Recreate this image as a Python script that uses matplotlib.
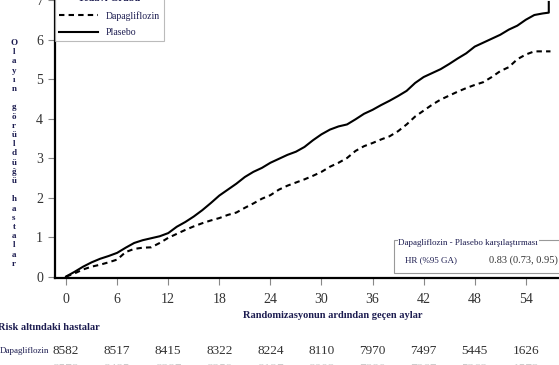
import matplotlib
matplotlib.use("Agg")
import matplotlib.pyplot as plt
from matplotlib.patches import Rectangle

plt.rcParams['font.family'] = ['Liberation Serif', 'DejaVu Serif']

# cumulative events (%), about one value per month
months_p = list(range(0, 57)) + [56.7, 56.7]
plasebo = [0, 0.12, 0.25, 0.36, 0.45, 0.52, 0.6, 0.73, 0.85, 0.92,
           0.97, 1.02, 1.1, 1.26, 1.38, 1.52, 1.68, 1.86, 2.05, 2.2,
           2.35, 2.52, 2.65, 2.75, 2.88, 2.98, 3.08, 3.16, 3.28, 3.45,
           3.6, 3.72, 3.8, 3.85, 3.98, 4.12, 4.22, 4.34, 4.45, 4.57,
           4.7, 4.9, 5.05, 5.15, 5.25, 5.38, 5.52, 5.65, 5.82, 5.92,
           6.02, 6.12, 6.25, 6.35, 6.5, 6.62, 6.66, 6.68, 6.95]
months_d = list(range(0, 57)) + [56.9]
dapa = [0, 0.08, 0.18, 0.25, 0.3, 0.36, 0.43, 0.62, 0.7, 0.73,
        0.74, 0.85, 0.98, 1.08, 1.18, 1.27, 1.35, 1.42, 1.48, 1.56,
        1.62, 1.74, 1.85, 1.97, 2.06, 2.2, 2.3, 2.38, 2.46, 2.55,
        2.65, 2.78, 2.88, 3.0, 3.18, 3.3, 3.38, 3.47, 3.55, 3.68,
        3.85, 4.05, 4.2, 4.35, 4.48, 4.58, 4.68, 4.77, 4.85, 4.92,
        5.05, 5.2, 5.3, 5.5, 5.62, 5.7, 5.7, 5.7]

risk_months = [0, 6, 12, 18, 24, 30, 36, 42, 48, 54]
risk_dapa = [8582, 8517, 8415, 8322, 8224, 8110, 7970, 7497, 5445, 1626]
risk_plasebo = [8578, 8485, 8387, 8259, 8127, 8003, 7880, 7367, 5362, 1573]

ylabel = "Olayın görüldüğü hastalar"
navy = '#1c1c50'
grey = '#333333'

fig = plt.figure(figsize=(5.59, 3.65), dpi=100)
ax = fig.add_axes([0.0984, 0.238, 0.9016, 0.762])

ax.plot(months_d, dapa, color='black', lw=1.5, ls=(0, (2.6, 2.0)),
        label='Dapagliflozin')
ax.plot(months_p, plasebo, color='black', lw=1.5, label='Plasebo')

ax.set_xlim(-1.3, 57.9)
ax.set_ylim(-0.04, 7.0)
ax.set_xticks(risk_months)
ax.set_yticks(range(0, 8))
for s in ['top', 'right']:
    ax.spines[s].set_visible(False)
ax.spines['left'].set_linewidth(1.6)
ax.spines['bottom'].set_linewidth(1.6)
ax.tick_params(axis='both', colors='#888888', labelcolor=grey, labelsize=10,
               length=5, width=0.8)
ax.tick_params(axis='x', pad=6)

leg = ax.legend(loc='upper left', bbox_to_anchor=(0.0, 1.035), borderaxespad=0,
                title='Tedavi Grubu', fontsize=7, title_fontsize=7.5,
                handlelength=4.0, fancybox=False, edgecolor='#aaaaaa',
                frameon=True, labelspacing=0.8, borderpad=0.4)
leg.get_title().set_fontweight('bold')
leg.get_title().set_color(navy)
for t in leg.get_texts():
    t.set_color(navy)
leg.get_frame().set_linewidth(0.8)

# hazard ratio box
ax.add_patch(Rectangle((0.673, 0.018), 0.34, 0.119, transform=ax.transAxes,
                       facecolor='white', edgecolor='#999999', lw=0.8,
                       clip_on=False, zorder=5))
ax.text(0.82, 0.126, 'Dapagliflozin - Plasebo karşılaştırması',
        transform=ax.transAxes, fontsize=6.5, color=navy, ha='center',
        va='center', zorder=6,
        bbox=dict(facecolor='white', edgecolor='none', pad=0.5))
ax.text(0.695, 0.065, 'HR (%95 GA)', transform=ax.transAxes, fontsize=6.5,
        color=navy, va='center', zorder=6)
ax.text(0.862, 0.065, '0.83 (0.73, 0.95)', transform=ax.transAxes,
        fontsize=7.5, color=grey, va='center', zorder=6)

# stacked y label
for i, ch in enumerate(ylabel):
    fig.text(14 / 559, 1 - (43 + i * 9.2) / 365, ch, fontsize=6.5,
             fontweight='bold', color=navy, ha='center', va='center')

fig.text(333 / 559, 1 - 315 / 365, 'Randomizasyonun ardından geçen aylar',
         fontsize=7.5, fontweight='bold', color=navy, ha='center', va='center')
fig.text(-2 / 559, 1 - 328 / 365, 'Risk altındaki hastalar', fontsize=7.5,
         fontweight='bold', color=navy, ha='left', va='center')
fig.text(0, 1 - 351 / 365, 'Dapagliflozin', fontsize=6.5, color=navy,
         ha='left', va='center')

# numbers at risk; the second (Plasebo) row is cut off at the bottom edge
for m, n1, n2 in zip(risk_months, risk_dapa, risk_plasebo):
    ax.annotate(str(n1), xy=(m, 0), xycoords=('data', 'axes fraction'),
                xytext=(0, -(351 - 278) * 0.72), textcoords='offset points',
                ha='center', va='center', fontsize=9.5, color=grey,
                annotation_clip=False)
    ax.annotate(str(n2), xy=(m, 0), xycoords=('data', 'axes fraction'),
                xytext=(0, -(369 - 278) * 0.72), textcoords='offset points',
                ha='center', va='center', fontsize=9.5, color='#cccccc',
                annotation_clip=False)

fig.savefig('out.png', dpi=100)
